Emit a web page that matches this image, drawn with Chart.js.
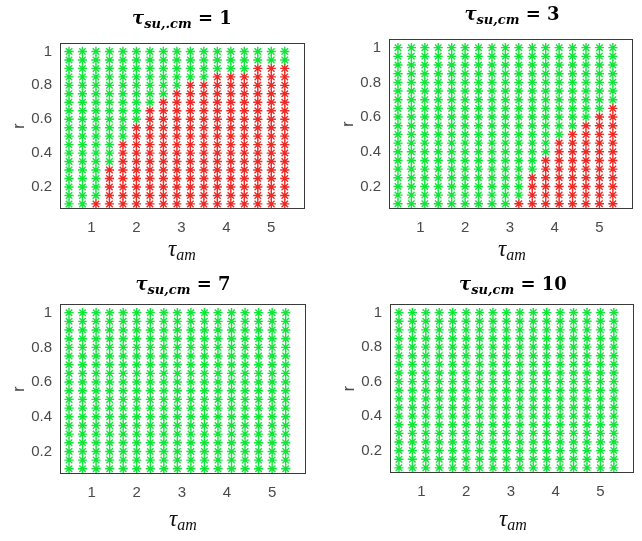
<!DOCTYPE html>
<html>
<head>
<meta charset="utf-8">
<script src="https://cdn.jsdelivr.net/npm/chart.js@4.4.1/dist/chart.umd.min.js"></script>
<style>
  html, body { margin: 0; padding: 0; background: #fff; overflow: hidden; width: 642px; height: 541px; }
  canvas { position: absolute; }
  .ttl {
    position: absolute; width: 240px; text-align: center; white-space: nowrap;
    font-family: "DejaVu Serif", serif; font-weight: bold; font-size: 18px; color: #000; line-height: 22px;
  }
  .ttl i { font-style: italic; }
  .ttl sub { font-size: 13px; font-style: italic; vertical-align: -4px; line-height: 0; }
  .xl {
    position: absolute; width: 120px; text-align: center; white-space: nowrap;
    font-family: "Liberation Serif", serif; font-style: italic; font-size: 23px; color: #111; line-height: 24px;
  }
  .xl sub { font-size: 16px; vertical-align: -4px; line-height: 0; }
</style>
</head>
<body>
<canvas id="c1" width="320" height="223" style="left:0px;top:26px"></canvas>
<canvas id="c2" width="310" height="227" style="left:329px;top:22px"></canvas>
<canvas id="c3" width="320" height="227" style="left:0px;top:287px"></canvas>
<canvas id="c4" width="310" height="226" style="left:330px;top:287px"></canvas>

<div class="ttl" style="left:62px;top:7px"><i>τ</i><sub>su,.cm</sub> = 1</div>
<div class="ttl" style="left:392px;top:3px"><i>τ</i><sub>su,cm</sub> = 3</div>
<div class="ttl" style="left:63px;top:273px"><i>τ</i><sub>su,cm</sub> = 7</div>
<div class="ttl" style="left:393px;top:273px"><i>τ</i><sub>su,cm</sub> = 10</div>

<div class="xl" style="left:122px;top:237px">τ<sub>am</sub></div>
<div class="xl" style="left:452px;top:237px">τ<sub>am</sub></div>
<div class="xl" style="left:123px;top:507px">τ<sub>am</sub></div>
<div class="xl" style="left:453px;top:507px">τ<sub>am</sub></div>

<script>
// Grid of simulated cases: tau_am along x, r along y
const tauAm = [0.5, 0.8, 1.1, 1.4, 1.7, 2.0, 2.3, 2.6, 2.9, 3.2, 3.5, 3.8, 4.1, 4.4, 4.7, 5.0, 5.3];
const rValues = [0.1, 0.15, 0.2, 0.25, 0.3, 0.35, 0.4, 0.45, 0.5, 0.55,
                 0.6, 0.65, 0.7, 0.75, 0.8, 0.85, 0.9, 0.95, 1.0];
const xTicks = [1, 2, 3, 4, 5];
const yTicks = [0.2, 0.4, 0.6, 0.8, 1];

// Highest r (per tau_am column) that ends up in the red region; null = no red case
const redTopSu1  = [null, null, 0.1, 0.3, 0.45, 0.55, 0.65, 0.7, 0.75, 0.8, 0.8, 0.85, 0.85, 0.85, 0.9, 0.9, 0.9];
const redTopSu3  = [null, null, null, null, null, null, null, null, null, 0.1, 0.25, 0.35, 0.45, 0.5, 0.55, 0.6, 0.65];
const redTopSu7  = [null, null, null, null, null, null, null, null, null, null, null, null, null, null, null, null, null];
const redTopSu10 = [null, null, null, null, null, null, null, null, null, null, null, null, null, null, null, null, null];

const GREEN = 'rgb(18, 228, 58)';
const RED = 'rgb(236, 42, 38)';
const TICK_COLOR = '#4a4a4a';
const TICK_FONT = { family: 'Liberation Sans', size: 15 };

function splitPoints(redTop) {
  const green = [], red = [];
  tauAm.forEach((x, i) => {
    rValues.forEach(r => {
      const isRed = redTop[i] !== null && r <= redTop[i] + 1e-9;
      (isRed ? red : green).push({ x: x, y: r });
    });
  });
  return { green, red };
}

const frameBox = {
  id: 'frameBox',
  afterDraw(chart) {
    const a = chart.chartArea, ctx = chart.ctx;
    ctx.save();
    ctx.strokeStyle = '#3a3a3a';
    ctx.lineWidth = 1;
    ctx.strokeRect(Math.round(a.left) + 0.5, Math.round(a.top) + 0.5,
                   Math.round(a.right - a.left) - 1, Math.round(a.bottom - a.top) - 1);
    ctx.restore();
  }
};

function makePanel(id, redTop, pad) {
  const pts = splitPoints(redTop);
  const common = { pointStyle: 'star', pointRadius: 4.6, pointHoverRadius: 4.6, pointBorderWidth: 1.4, showLine: false };
  return new Chart(document.getElementById(id), {
    type: 'scatter',
    data: {
      datasets: [
        Object.assign({ label: 'green', data: pts.green, borderColor: GREEN, backgroundColor: GREEN }, common),
        Object.assign({ label: 'red', data: pts.red, borderColor: RED, backgroundColor: RED }, common)
      ]
    },
    plugins: [frameBox],
    options: {
      responsive: false,
      animation: false,
      events: [],
      layout: { padding: { left: 0, right: pad.right, top: 0, bottom: 0 } },
      plugins: { legend: { display: false }, tooltip: { enabled: false } },
      scales: {
        x: {
          type: 'linear', min: 0.3, max: 5.75,
          grid: { display: false, drawTicks: false },
          border: { display: false },
          ticks: { color: TICK_COLOR, padding: 10, font: TICK_FONT },
          afterBuildTicks: s => { s.ticks = xTicks.map(v => ({ value: v })); },
          afterFit: s => { s.height = 40; }
        },
        y: {
          type: 'linear', min: 0.07, max: 1.05,
          grid: { display: false, drawTicks: false },
          border: { display: false },
          title: { display: true, text: 'r', color: TICK_COLOR, padding: { top: 10, bottom: 0 },
                   font: { family: 'Liberation Sans', size: 16 } },
          ticks: { color: TICK_COLOR, padding: 8, font: TICK_FONT,
                   callback: v => String(v) },
          afterBuildTicks: s => { s.ticks = yTicks.map(v => ({ value: v })); },
          afterFit: s => { s.width = 60; }
        }
      }
    }
  });
}

makePanel('c1', redTopSu1,  { right: 15 });
makePanel('c2', redTopSu3,  { right: 4 });
makePanel('c3', redTopSu7,  { right: 14 });
makePanel('c4', redTopSu10, { right: 3 });
</script>
</body>
</html>
